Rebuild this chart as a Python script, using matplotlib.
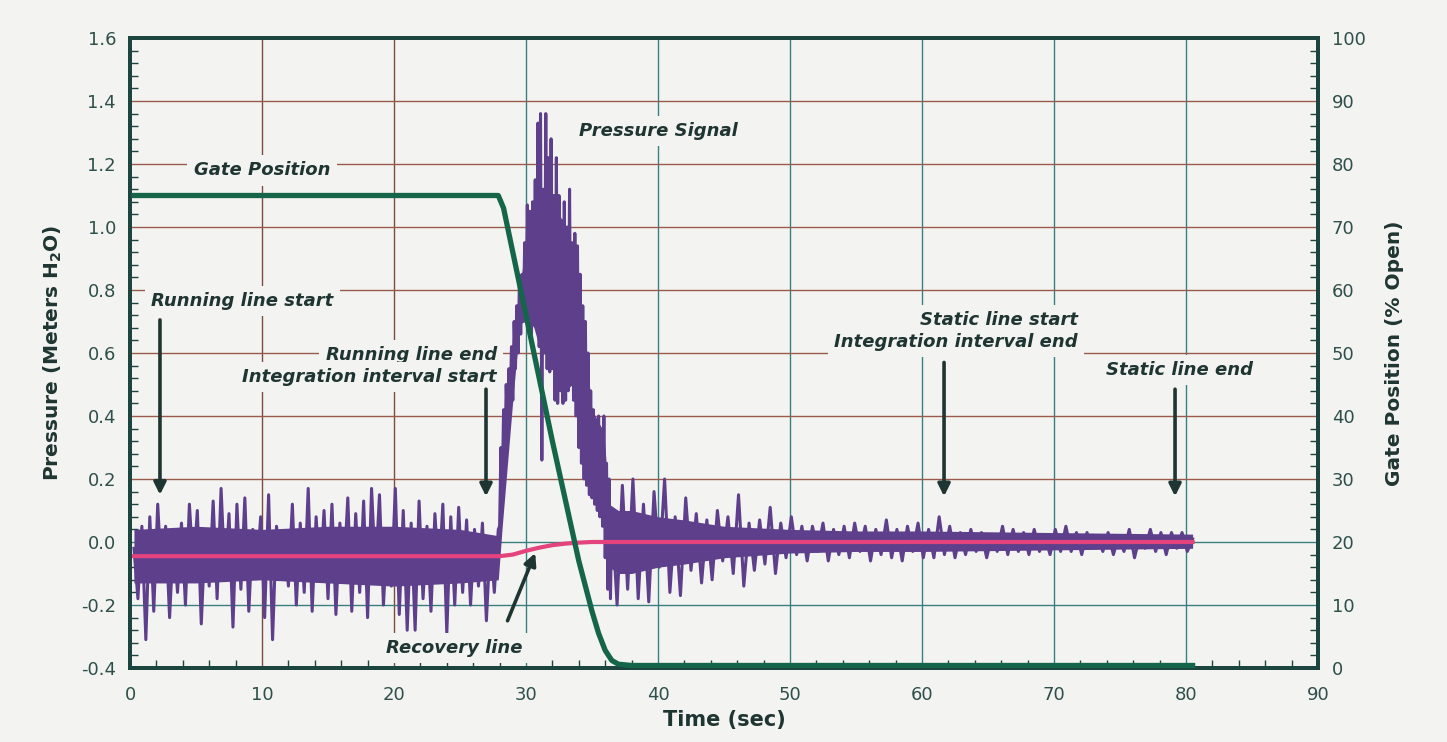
import numpy as np
import matplotlib
matplotlib.use('Agg')
import matplotlib.pyplot as plt

plt.rcParams['font.family'] = ['DejaVu Sans']

# pressure signal (meters H2O)
# running part, one value every 0.3 s starting at 0.3 s
p_run = [-0.02, -0.18, 0.05, -0.31, 0.08, -0.22, 0.12, -0.12, 0.05, -0.24,
         0.02, -0.16, 0.06, -0.20, 0.12, -0.09, 0.10, -0.26, 0.03, -0.14,
         0.13, -0.18, 0.17, -0.12, 0.09, -0.27, 0.12, -0.15, 0.14, -0.22,
         0.04, -0.10, 0.08, -0.24, 0.15, -0.31, 0.05, -0.08, 0.02, -0.14,
         0.12, -0.20, 0.06, -0.16, 0.17, -0.22, 0.08, -0.12, 0.10, -0.18,
         0.12, -0.23, 0.06, -0.10, 0.14, -0.22, 0.09, -0.16, 0.13, -0.24,
         0.17, -0.10, 0.15, -0.20, 0.04, -0.14, 0.17, -0.23, 0.10, -0.28,
         0.06, -0.28, 0.13, -0.18, 0.05, -0.22, 0.09, -0.12, 0.12, -0.29,
         0.08, -0.20, 0.11, -0.16, 0.07, -0.20, 0.04, -0.14, 0.06, -0.25,
         0.01, -0.16, 0.04]
# surge while the gate closes, one value every 0.1 s from 28.0 s
p_surge = [0.05, 0.30, 0.15, 0.42, 0.25, 0.50, 0.35, 0.55, 0.42, 0.62,
           0.45, 0.70, 0.55, 0.75, 0.60, 0.82, 0.66, 0.85, 0.70, 0.95,
           0.70, 1.07, 0.72, 1.05, 0.66, 1.08, 0.70, 1.15, 0.68, 1.33,
           0.62, 1.36, 0.26, 1.12, 0.60, 1.36, 0.55, 1.22, 0.54, 1.28,
           0.55, 1.10, 0.45, 1.22, 0.44, 1.10, 0.48, 1.02, 0.44, 1.08,
           0.45, 1.00, 0.48, 1.12, 0.50, 0.95, 0.45, 0.98, 0.40, 0.94,
           0.30, 0.85, 0.25, 0.75, 0.20, 0.70, 0.18, 0.60, 0.15, 0.48,
           0.14, 0.42, 0.12, 0.38, 0.10, 0.40, 0.08, 0.35, 0.05, 0.40,
           -0.05, 0.25, -0.15, 0.20, -0.18]
# static part, one value every 0.4 s from 36.5 s
p_static = [0.10, -0.20, 0.18, -0.15, 0.20, -0.18, 0.12, -0.19, 0.16, -0.08,
            0.20, -0.16, 0.08, -0.17, 0.14, -0.09, 0.09, -0.13, 0.07, -0.12,
            0.10, -0.06, 0.08, -0.10, 0.15, -0.14, 0.06, -0.09, 0.07, -0.07,
            0.11, -0.10, 0.06, -0.05, 0.08, -0.04, 0.05, -0.06, 0.05, -0.03,
            0.06, -0.06, 0.04, -0.04, 0.05, -0.05, 0.06, -0.03, 0.05, -0.06,
            0.04, -0.04, 0.07, -0.05, 0.04, -0.06, 0.05, -0.03, 0.06, -0.05,
            0.04, -0.05, 0.08, -0.04, 0.05, -0.05, 0.03, -0.04, 0.04, -0.03,
            0.03, -0.05, 0.02, -0.03, 0.05, -0.04, 0.04, -0.03, 0.03, -0.04,
            0.04, -0.03, 0.02, -0.04, 0.04, -0.03, 0.05, -0.03, 0.03, -0.04,
            0.03, -0.02, 0.02, -0.03, 0.03, -0.04, 0.02, -0.03, 0.04, -0.05,
            0.02, -0.02, 0.04, -0.03, 0.03, -0.04, 0.03, -0.02, 0.03, -0.03,
            0.01]

t_run = 0.3 + 0.3 * np.arange(len(p_run))
t_surge = 28.0 + 0.1 * np.arange(len(p_surge))
t_static = 36.5 + 0.4 * np.arange(len(p_static))
t_p = np.concatenate([t_run, t_surge, t_static])
p_sig = np.concatenate([p_run, p_surge, p_static])

# dense core of the pressure trace (where the trace looks solid)
t_core = [0.3, 5, 10, 15, 20, 25, 27.9, 28.2, 28.6, 29.0, 29.5, 30.0, 30.6,
          31.0, 31.5, 32.0, 32.5, 33.0, 33.5, 34.0, 34.5, 35.0, 35.5, 35.9,
          36.3, 37, 38, 40, 42, 45, 50, 55, 60, 70, 80.5]
core_lo = [-0.13, -0.13, -0.12, -0.13, -0.14, -0.13, -0.12, 0.05, 0.25, 0.45,
           0.68, 0.72, 0.68, 0.62, 0.62, 0.56, 0.50, 0.48, 0.50, 0.35, 0.22,
           0.16, 0.12, 0.05, -0.08, -0.10, -0.10, -0.08, -0.07, -0.05,
           -0.035, -0.03, -0.03, -0.025, -0.02]
core_hi = [0.04, 0.05, 0.04, 0.05, 0.05, 0.04, 0.02, 0.30, 0.48, 0.62, 0.80,
           0.95, 1.02, 1.05, 1.12, 1.10, 1.05, 0.98, 0.92, 0.80, 0.62, 0.42,
           0.38, 0.35, 0.12, 0.10, 0.10, 0.08, 0.07, 0.05, 0.04, 0.035,
           0.035, 0.03, 0.025]

# recovery line
t_rec = [0.3, 28.0, 29.0, 30.0, 31.0, 32.0, 33.0, 34.0, 35.0, 36.0, 80.5]
p_rec = [-0.045, -0.045, -0.040, -0.028, -0.018, -0.010, -0.005, -0.002, 0.0, 0.0, 0.0]

# gate position (% open)
t_gate = [0.3, 27.9, 28.3, 29.0, 30.0, 31.0, 32.0, 33.0, 34.0, 35.0, 35.5,
          36.0, 36.5, 37.0, 38.0, 80.5]
gate = [75, 75, 73, 66, 56, 46, 36, 26.5, 17, 9, 5.5, 2.8, 1.2, 0.6, 0.4, 0.4]

bg = '#f3f3f1'
dark = '#1f3531'
tickc = '#2f4f4a'
spc = '#1d4540'
purple = '#5e3f8c'

fig = plt.figure(figsize=(14.47, 7.42), dpi=100, facecolor=bg)
ax = fig.add_axes([130/1447, 1-668/742, 1188/1447, 630/742])
ax.set_facecolor(bg)

# grid
for xv in [10, 20]:
    ax.axvline(xv, color='#7d4c42', lw=1, zorder=0)
for xv in [30, 40, 50, 60, 70, 80]:
    ax.axvline(xv, color='#3a7f80', lw=1, zorder=0)
for yv in [-0.2, 0.0]:
    ax.axhline(yv, color='#3a7f80', lw=1, zorder=0)
for yv in [0.2, 0.4, 0.6, 0.8, 1.0, 1.2, 1.4]:
    ax.axhline(yv, color='#9a5a4c', lw=1, zorder=0)

ax.fill_between(t_core, core_lo, core_hi, color=purple, lw=0, zorder=2)
ax.plot(t_p, p_sig, color=purple, lw=2.2, zorder=2)
ax.plot(t_rec, p_rec, color='#e4437d', lw=3, zorder=3)

ax.set_xlim(0, 90)
ax.set_ylim(-0.4, 1.6)
ax.set_xticks(np.arange(0, 91, 10))
ax.set_xticks(np.arange(0, 91, 2), minor=True)
ax.set_yticks(np.arange(-0.4, 1.61, 0.2))
ax.set_yticks(np.arange(-0.4, 1.61, 0.04), minor=True)
ax.set_yticklabels(['%.1f' % v for v in np.arange(-0.4, 1.61, 0.2)])
ax.tick_params(which='both', direction='in', colors=spc, labelcolor=tickc,
               labelsize=13, width=1)
ax.tick_params(which='major', length=0, pad=10)
ax.tick_params(which='minor', length=6)
ax.tick_params(axis='x', which='major', pad=13)
ax.set_xlabel('Time (sec)', fontsize=15, fontweight='bold', color=dark, labelpad=4)
ax.set_ylabel(r'Pressure (Meters H$_\mathbf{2}$O)', fontsize=14.5,
              fontweight='bold', color=dark, labelpad=12)
for s in ax.spines.values():
    s.set_color(spc)
    s.set_linewidth(2.8)

ax2 = ax.twinx()
ax2.plot(t_gate, gate, color='#15654a', lw=3.8, zorder=4)
ax2.set_ylim(0, 100)
ax2.set_yticks(np.arange(0, 101, 10))
ax2.set_yticks(np.arange(0, 101, 2), minor=True)
ax2.tick_params(which='both', direction='in', colors=spc, labelcolor=tickc,
                labelsize=13, width=1)
ax2.tick_params(which='major', length=0, pad=10)
ax2.tick_params(which='minor', length=6)
ax2.set_ylabel('Gate Position (% Open)', fontsize=14.5, fontweight='bold',
               color=dark, labelpad=14)
for s in ax2.spines.values():
    s.set_color(spc)
    s.set_linewidth(2.8)

box = dict(boxstyle='square,pad=0.35', fc=bg, ec='none')
lab = dict(fontsize=13, fontweight='bold', style='italic', color=dark,
           va='center', bbox=box, zorder=5)
ax.text(10.0, 1.18, 'Gate Position', ha='center', **lab)
ax.text(40.0, 1.305, 'Pressure Signal', ha='center', **lab)
ax.text(8.5, 0.765, 'Running line start', ha='center', **lab)
ax.text(27.8, 0.594, 'Running line end', ha='right', **lab)
ax.text(27.8, 0.524, 'Integration interval start', ha='right', **lab)
ax.text(71.8, 0.705, 'Static line start', ha='right', **lab)
ax.text(71.8, 0.635, 'Integration interval end', ha='right', **lab)
ax.text(79.5, 0.546, 'Static line end', ha='center', **lab)
ax.text(24.6, -0.337, 'Recovery line', ha='center', **lab)

arr = dict(arrowstyle='-|>', color=dark, lw=2.6, mutation_scale=18,
           shrinkA=0, shrinkB=0)
ax.annotate('', xy=(2.27, 0.15), xytext=(2.27, 0.705), arrowprops=arr, zorder=5)
ax.annotate('', xy=(26.97, 0.145), xytext=(26.97, 0.485), arrowprops=arr, zorder=5)
ax.annotate('', xy=(61.67, 0.145), xytext=(61.67, 0.57), arrowprops=arr, zorder=5)
ax.annotate('', xy=(79.17, 0.145), xytext=(79.17, 0.485), arrowprops=arr, zorder=5)
ax.annotate('', xy=(30.7, -0.035), xytext=(28.6, -0.25), arrowprops=arr, zorder=5)

fig.savefig('out.png', dpi=100, facecolor=bg)
